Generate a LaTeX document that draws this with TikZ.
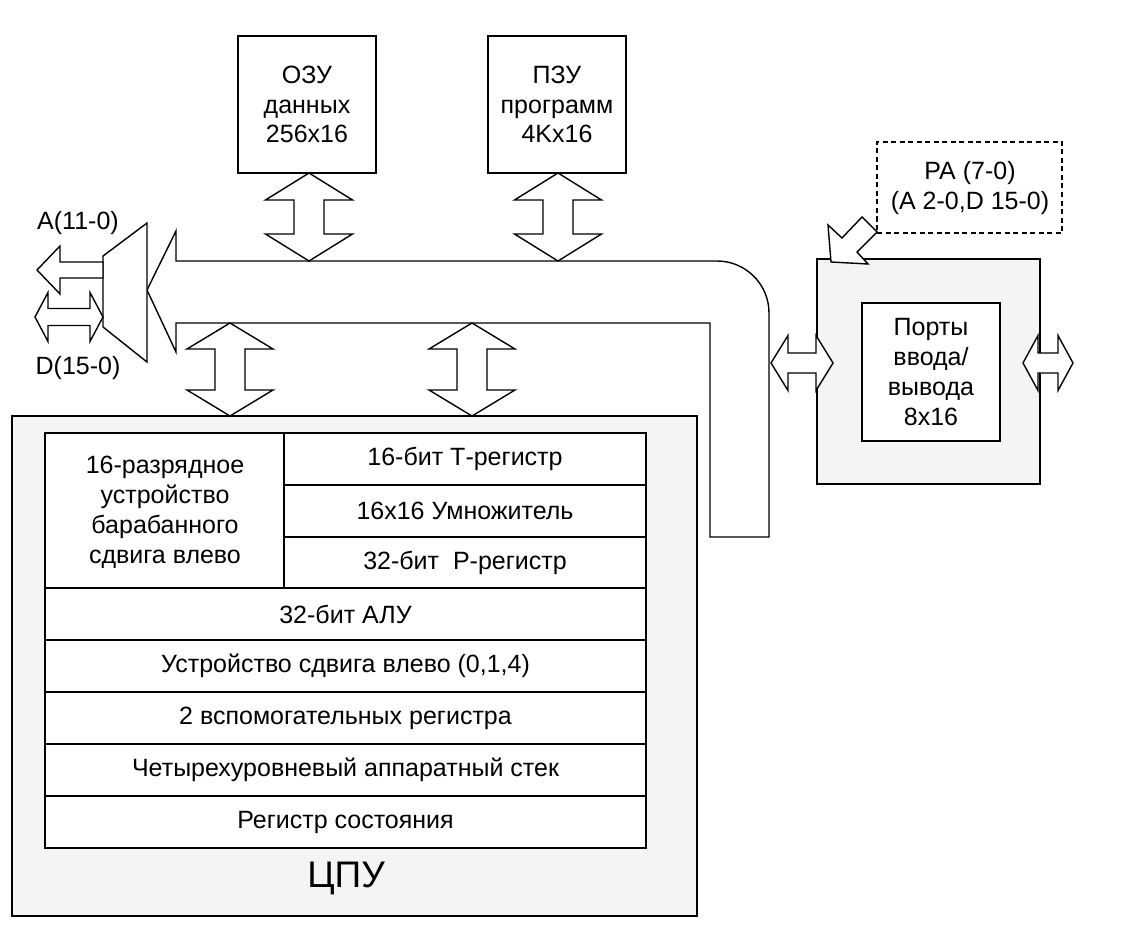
\documentclass[tikz,border=0pt]{standalone}
\usepackage{fontspec}
\setmainfont{Liberation Sans}
\begin{document}
\begin{tikzpicture}[x=1pt,y=-1pt,
  line join=miter,
  blk/.style={draw, line width=1.5pt},
  fat/.style={draw, line width=1.4pt, fill=white},
  lbl/.style={font=\fontsize{25}{30}\selectfont, align=center, inner sep=0pt},
  shade/.style={fill=gray!9}]
\useasboundingbox (0,0) rectangle (1129,944);

% vertical double-headed bus arrow: centre x, top y, bottom y, shaft half-width, head half-width, head length
\newcommand\vbusarrow[6]{%
  \filldraw[fat] (#1,#2) -- ({#1+#5},{#2+#6}) -- ({#1+#4},{#2+#6}) -- ({#1+#4},{#3-#6})
    -- ({#1+#5},{#3-#6}) -- (#1,#3) -- ({#1-#5},{#3-#6}) -- ({#1-#4},{#3-#6})
    -- ({#1-#4},{#2+#6}) -- ({#1-#5},{#2+#6}) -- cycle;}
% horizontal double-headed bus arrow: centre y, left x, right x, shaft half-width, head half-width, head length
\newcommand\hbusarrow[6]{%
  \filldraw[fat] (#2,#1) -- ({#2+#6},{#1-#5}) -- ({#2+#6},{#1-#4}) -- ({#3-#6},{#1-#4})
    -- ({#3-#6},{#1-#5}) -- (#3,#1) -- ({#3-#6},{#1+#5}) -- ({#3-#6},{#1+#4})
    -- ({#2+#6},{#1+#4}) -- ({#2+#6},{#1+#5}) -- cycle;}

% ---- CPU ----
\node[blk, shade, minimum width=685pt, minimum height=500pt, inner sep=0pt] (cpu) at (354.5,666) {};
\node[font=\fontsize{37}{37}\selectfont, inner sep=0pt] (cpulbl) at (346,878) {ЦПУ};
\fill[white] (45,433) rectangle (646,848);
\draw[blk] (45,433) rectangle (646,848);
\draw[blk] (284,433) -- (284,588);
\foreach \yy in {485,537} \draw[blk] (284,\yy) -- (646,\yy);
\foreach \yy in {588,640,692,744,796} \draw[blk] (45,\yy) -- (646,\yy);

\node[lbl] (shifter) at (165,512) {16-разрядное\\устройство\\барабанного\\сдвига влево};
\node[lbl] (treg) at (465,459) {16-бит Т-регистр};
\node[lbl] (mul)  at (465,511) {16x16 Умножитель};
\node[lbl] (preg) at (465,563) {32-бит\ \ Р-регистр};
\node[lbl] (alu)  at (345.5,614) {32-бит АЛУ};
\node[lbl] (shl)  at (345.5,666) {Устройство сдвига влево (0,1,4)};
\node[lbl] (aux)  at (345.5,718) {2 вспомогательных регистра};
\node[lbl] (stk)  at (345.5,770) {Четырехуровневый аппаратный стек};
\node[lbl] (st)   at (345.5,822) {Регистр состояния};

% ---- memories ----
\node[blk, minimum width=138pt, minimum height=137pt, inner sep=0pt] (ram) at (307,104.5) {};
\node[lbl, font=\fontsize{25}{29.5}\selectfont] at (ram) {ОЗУ\\данных\\256x16};
\node[blk, minimum width=138pt, minimum height=137pt, inner sep=0pt] (rom) at (557,104.5) {};
\node[lbl, font=\fontsize{25}{29.5}\selectfont] at (rom) {ПЗУ\\программ\\4Kx16};

% ---- I/O ports ----
\node[blk, shade, minimum width=223pt, minimum height=225pt, inner sep=0pt] (io) at (928.5,371.5) {};
\node[blk, fill=white, minimum width=138pt, minimum height=138pt, inner sep=0pt] (ports) at (931,372) {};
\node[lbl] at (ports) {Порты\\ввода/\\вывода\\8x16};

% ---- PA dashed box ----
\node[draw, dashed, line width=1.4pt, dash pattern=on 5pt off 3.5pt, minimum width=185pt, minimum height=91pt, inner sep=0pt] (pa) at (969.5,187.5) {};
\node[lbl] at (970,173) {PA (7-0)};
\node[lbl] at (970,203) {(A 2-0,D 15-0)};

% ---- internal bus ----
\filldraw[fat] (147,290) -- (176,231) -- (176,261) -- (717,261)
  .. controls (745.7,261) and (769,284.3) .. (769,313) -- (769,537)
  -- (710,537) -- (710,323) -- (176,323) -- (176,352) -- cycle;

% ---- external interface (multiplexer) ----
\filldraw[fat] (103,256) -- (147,223) -- (147,362) -- (103,327) -- cycle;
\filldraw[fat] (37,270) -- (60,246) -- (60,262) -- (103,262) -- (103,278) -- (60,278) -- (60,294) -- cycle;
\hbusarrow{317}{35}{103}{8.5}{24.5}{13}
\node[lbl] (alab) at (78,223) {A(11-0)};
\node[lbl] (dlab) at (78,368) {D(15-0)};

% ---- bus links ----
\vbusarrow{309}{173}{261}{15}{43.5}{27}
\vbusarrow{558}{173}{261}{15}{43.5}{27}
\vbusarrow{230}{323}{416}{15}{43}{26}
\vbusarrow{472}{323}{416}{15}{43}{26}
\hbusarrow{363}{771}{833}{10}{27.5}{17}
\hbusarrow{363}{1023}{1073}{10}{27.5}{15}

% PA -> ports
\filldraw[fat] (831,262) -- (828,225) -- (842,238) -- (862,217) -- (877,232) -- (857,252) -- (868,264) -- cycle;
\end{tikzpicture}
\end{document}
